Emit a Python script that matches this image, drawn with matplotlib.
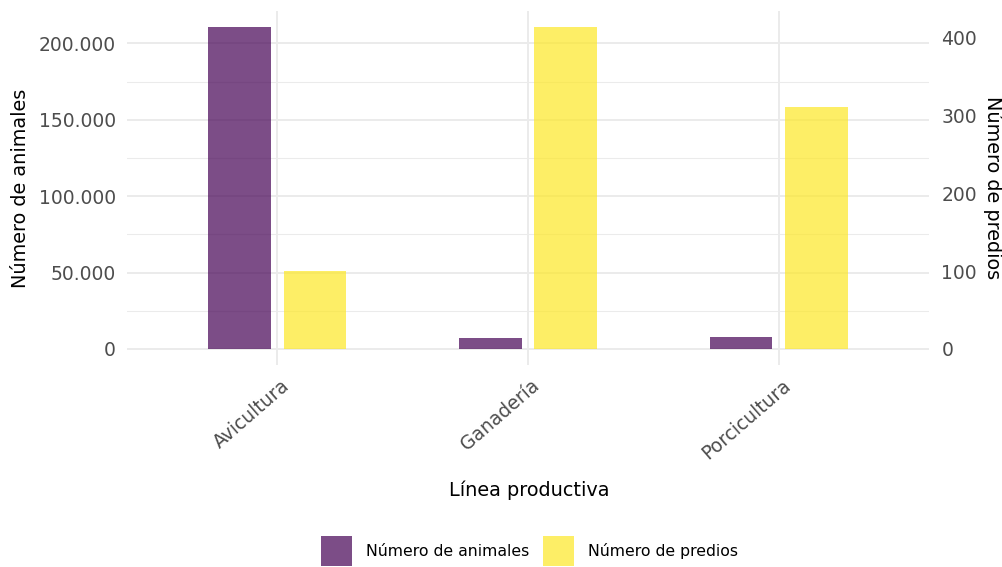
"""Dual-axis bar chart: animals and farms per productive line."""
import numpy as np
import matplotlib
matplotlib.use("Agg")
import matplotlib.pyplot as plt
from matplotlib.ticker import FixedLocator, FuncFormatter
from matplotlib.transforms import ScaledTranslation, blended_transform_factory

plt.rcParams["font.family"] = ["DejaVu Sans"]

categories = ["Avicultura", "Ganadería", "Porcicultura"]
animales = [210700, 6950, 7600]
predios = [100, 414, 311]
series_labels = ["Número de animales", "Número de predios"]

left_ticks = [0, 50000, 100000, 150000, 200000]
left_minor = [25000, 75000, 125000, 175000]
right_ticks = [0, 100, 200, 300, 400]

PURPLE = "#440154"
YELLOW = "#FDE725"
GRID = "#EBEBEB"
TICK_COL = "#4D4D4D"

W, H = 1003, 567


def thousands(v, _pos=None):
    return f"{v:,.0f}".replace(",", ".")


def main():
    fig = plt.figure(figsize=(W / 100, H / 100), dpi=100)
    x0, x1, y0, y1 = 127, 929, 11, 365
    ax = fig.add_axes([x0 / W, 1 - y1 / H, (x1 - x0) / W, (y1 - y0) / H])
    ax2 = ax.twinx()

    x = np.arange(len(categories))
    b1 = ax.bar(x - 0.15, animales, width=0.25, color=PURPLE, alpha=0.7,
                linewidth=0, zorder=2)
    b2 = ax2.bar(x + 0.15, predios, width=0.25, color=YELLOW, alpha=0.7,
                 linewidth=0, zorder=2)

    # ggplot-style 5% expansion, secondary axis rescaled by max ratio
    top = max(animales)
    lo, hi = -0.05 * top, 1.05 * top
    factor = max(animales) / max(predios)
    ax.set_ylim(lo, hi)
    ax2.set_ylim(lo / factor, hi / factor)
    ax.set_xlim(-0.6, len(categories) - 0.4)

    ax.yaxis.set_major_locator(FixedLocator(left_ticks))
    ax.yaxis.set_minor_locator(FixedLocator(left_minor))
    ax.yaxis.set_major_formatter(FuncFormatter(thousands))
    ax2.yaxis.set_major_locator(FixedLocator(right_ticks))

    ax.set_axisbelow(True)
    ax.grid(axis="y", which="major", color=GRID, lw=1.4)
    ax.grid(axis="y", which="minor", color=GRID, lw=0.75)
    ax.grid(axis="x", which="major", color=GRID, lw=1.4)

    for a in (ax, ax2):
        for s in a.spines.values():
            s.set_visible(False)
        a.tick_params(which="both", length=0, labelsize=13.5, labelcolor=TICK_COL)
    ax.tick_params(axis="y", pad=8)
    ax2.tick_params(axis="y", pad=9)

    ax.set_xticks(x)
    ax.set_xticklabels(categories, rotation=41, ha="right", va="top",
                       rotation_mode="anchor")
    offset = ScaledTranslation(3 / 100, -6 / 100, fig.dpi_scale_trans)
    for lab in ax.get_xticklabels():
        lab.set_transform(lab.get_transform() + offset)

    ax.set_ylabel(series_labels[0], fontsize=13.9, color="black", va="center")
    ax2.set_ylabel(series_labels[1], fontsize=13.9, color="black",
                   rotation=-90, va="center")
    mixed = blended_transform_factory(fig.transFigure, ax.transAxes)
    ax.yaxis.set_label_coords(21 / W, 0.5, transform=mixed)
    ax2.yaxis.set_label_coords(993 / W, 0.5, transform=mixed)
    fig.text(529 / W, 1 - 490 / H, "Línea productiva", fontsize=13.9,
             ha="center", va="center")

    fig.legend([b1, b2], series_labels, loc="center",
               bbox_to_anchor=(529.5 / W, 1 - 551 / H), ncol=2, frameon=False,
               fontsize=11.3, handlelength=1.97, handleheight=2.56,
               handletextpad=0.9, columnspacing=0.83, borderpad=0)

    fig.savefig("out.png", dpi=100)
    plt.close(fig)


if __name__ == "__main__":
    main()
